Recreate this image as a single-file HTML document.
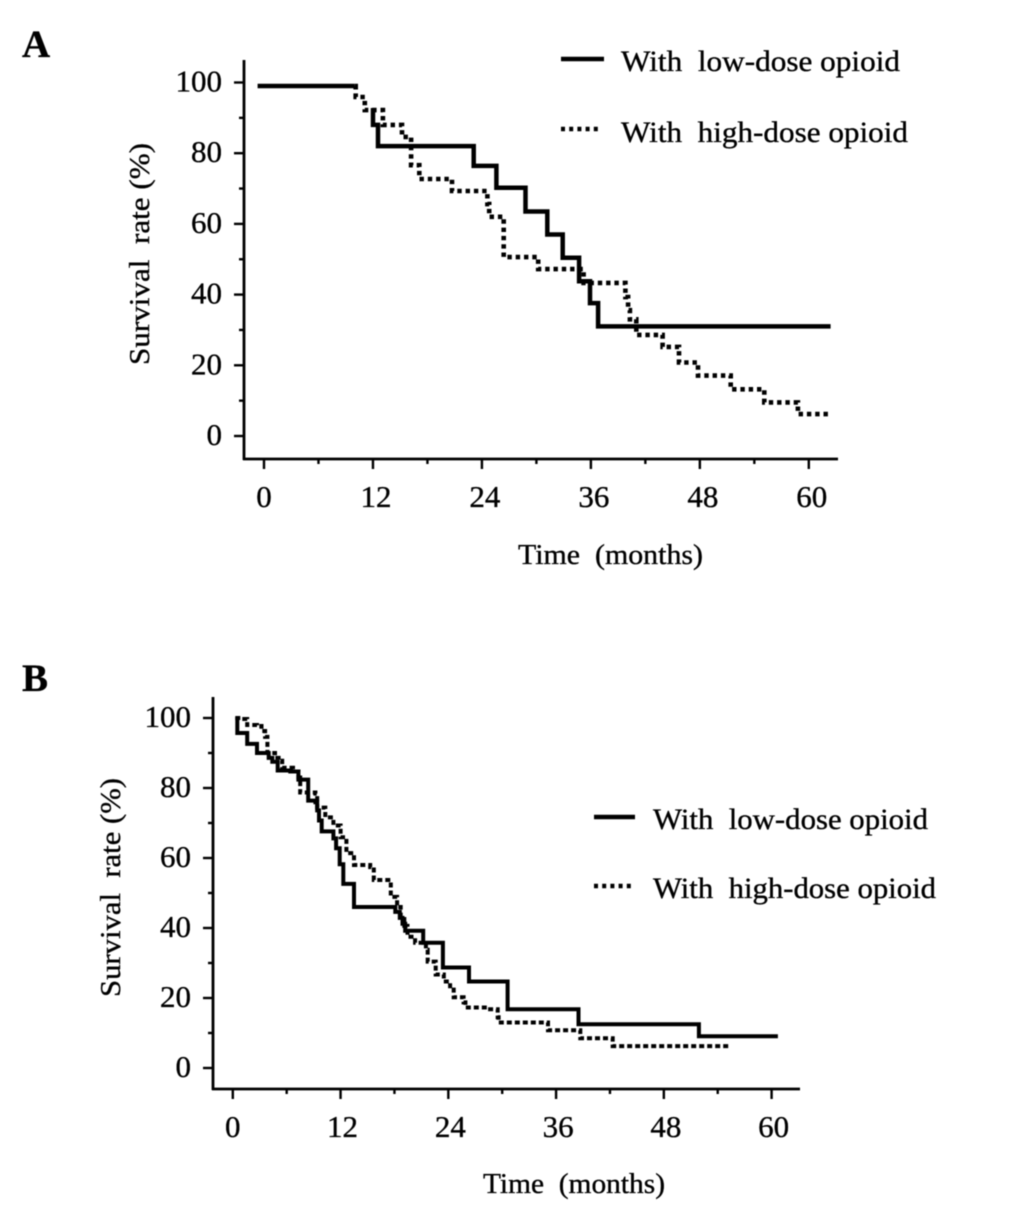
<!DOCTYPE html>
<html lang="en">
<head>
<meta charset="utf-8">
<title>Survival curves</title>
<style>
html,body{margin:0;padding:0;background:#fff;}
svg{display:block;filter:blur(0.5px);}
text{font-family:"Liberation Serif",serif;fill:#000;stroke:#000;stroke-width:0.35px;}
</style>
</head>
<body>
<svg id="figure" width="1034" height="1220" viewBox="0 0 1034 1220" xmlns="http://www.w3.org/2000/svg">
  <rect width="1034" height="1220" fill="#fff"/>
  <text x="22" y="57" font-size="39" font-weight="bold">A</text>
  <text x="22" y="691" font-size="39" font-weight="bold">B</text>

  <g id="panelA"></g>
  <g id="panelB"></g>

  <text transform="translate(149,365) rotate(-90)" font-size="29" textLength="222" lengthAdjust="spacingAndGlyphs" xml:space="preserve">Survival  rate (%)</text>
  <text x="518" y="564" font-size="29" textLength="185" lengthAdjust="spacingAndGlyphs" xml:space="preserve">Time  (months)</text>
  <text transform="translate(120,997) rotate(-90)" font-size="29" textLength="219" lengthAdjust="spacingAndGlyphs" xml:space="preserve">Survival  rate (%)</text>
  <text x="483" y="1193" font-size="29" textLength="182" lengthAdjust="spacingAndGlyphs" xml:space="preserve">Time  (months)</text>

  <g>
    <line x1="561" y1="59" x2="604" y2="59" stroke="#000" stroke-width="4.5"/>
    <text x="621" y="71" font-size="30" textLength="279" lengthAdjust="spacingAndGlyphs" xml:space="preserve">With  low-dose opioid</text>
    <line x1="561" y1="129" x2="600" y2="129" stroke="#000" stroke-width="4.4" stroke-dasharray="4 4.2"/>
    <text x="621" y="142" font-size="30" textLength="287" lengthAdjust="spacingAndGlyphs" xml:space="preserve">With  high-dose opioid</text>
  </g>
  <g>
    <line x1="594" y1="817" x2="635" y2="817" stroke="#000" stroke-width="4.5"/>
    <text x="653" y="829" font-size="30" textLength="275" lengthAdjust="spacingAndGlyphs" xml:space="preserve">With  low-dose opioid</text>
    <line x1="594" y1="886" x2="632" y2="886" stroke="#000" stroke-width="4.4" stroke-dasharray="4 4.2"/>
    <text x="653" y="898" font-size="30" textLength="283" lengthAdjust="spacingAndGlyphs" xml:space="preserve">With  high-dose opioid</text>
  </g>
</svg>

<script>
// Axis tick data (shared by both panels)
const xTickValues = [0, 12, 24, 36, 48, 60];
const xTickLabels = ["0", "12", "24", "36", "48", "60"];
const xMinorTicks = [6, 18, 30, 42, 54];
const yTickValues = [0, 20, 40, 60, 80, 100];
const yTickLabels = ["0", "20", "40", "60", "80", "100"];
const yMinorTicks = [10, 30, 50, 70, 90];

// Panel A series: time in months, survival in percent (null = gap in the printed line)
const lowTimesA = [-0.7, 10.0, null, 12.0, 12.0, 12.55, 23.1, 25.6, 28.8, 31.2, 32.9, 34.7, 35.9, 36.8, 62.4];
const lowRatesA = [99, 99, null, 92.8, 88, 82, 76.4, 70.2, 63.5, 57, 50.4, 43.8, 37.6, 31, 31];
const highTimesA = [10.0, 10.1, 11.1, 13.1, 15.2, 16.2, 17.1, 20.7, 24.6, 24.8, 26.4, 30.2, 35.2, 39.4, 39.8, 40.1, 40.3, 41, 43.9, 45.7, 47.8, 51.4, 55.1, 58.8, 62.4];
const highRatesA = [99, 95.9, 92.2, 88, 84.6, 76.6, 72.7, 69.3, 65.6, 62, 50.6, 47.2, 43.3, 43.3, 39.3, 35.6, 33, 28.6, 25.2, 20.8, 17.1, 13.2, 9.5, 6.2, 6.2];

// Panel B series
const lowTimesB = [0.28, 0.5, 1.6, 2.7, 4, 4.4, 5, 6.4, 7.3, 8.4, 9.2, 9.4, 9.6, 9.9, 11.2, 11.5, 11.9, 12.3, 13.5, 18.1, 18.6, 18.9, 19.2, 21.2, 23.4, 26.3, 30.6, 38.5, 51.9, 60.7];
const lowRatesB = [99.7, 95.7, 92.6, 90, 88.6, 87.5, 85, 84.7, 82.4, 76.4, 75.9, 73.6, 70.7, 67.6, 65.6, 62.8, 58.2, 52.6, 46, 44.6, 42.9, 41.2, 39.2, 35.8, 28.7, 24.7, 16.8, 12.5, 9.1, 9.1];
const highTimesB = [0.28, 0.84, 1.6, 2.7, 3.2, 3.6, 3.85, 4.7, 5.1, 5.5, 6.7, 7.3, 7.5, 9.2, 9.4, 10.3, 11.2, 12, 12.65, 13.5, 15.3, 15.7, 17.6, 18.3, 18.7, 19.1, 19.45, 20.3, 21.5, 21.7, 22.6, 23.5, 24.2, 24.6, 25.7, 25.9, 28.4, 29.5, 29.6, 35.1, 38.7, 42.3, 55.2];
const highRatesB = [100, 99.7, 98, 97.7, 96.3, 94.6, 90, 88.6, 87.8, 85.8, 84.7, 83, 78.7, 78.4, 74.4, 71.6, 69.3, 65.9, 61.4, 58, 57.4, 53.7, 48.9, 46, 43.2, 40.6, 37.5, 35.8, 33.8, 30.4, 26.7, 24.7, 22.4, 20.2, 18.75, 17.3, 16.8, 14.5, 13, 10.8, 8.5, 6.25, 6.25];

const NS = "http://www.w3.org/2000/svg";

function make(tag, attrs, parent) {
  const el = document.createElementNS(NS, tag);
  for (const k in attrs) el.setAttribute(k, attrs[k]);
  parent.appendChild(el);
  return el;
}

function stepPath(times, rates, xAxis, yAxis) {
  let d = "";
  let fresh = true;
  for (let i = 0; i < times.length; i++) {
    if (times[i] === null) { fresh = true; continue; }
    const px = xAxis(times[i]).toFixed(1);
    const py = yAxis(rates[i]).toFixed(1);
    if (fresh) { d += "M" + px + " " + py; fresh = false; }
    else { d += "H" + px + "V" + py; }
  }
  return d;
}

function drawPanel(group, cfg) {
  const xAxis = function (t) { return cfg.x0 + cfg.xs * t; };
  const yAxis = function (v) { return cfg.y0 - cfg.ys * v; };

  const yLine = make("line", {x1: cfg.left, y1: cfg.top, x2: cfg.left, y2: cfg.bottom + 1, stroke: "#000", "stroke-width": 2.8}, group);
  
  
  const xLine = make("line", {x1: cfg.left - 1, y1: cfg.bottom, x2: cfg.right, y2: cfg.bottom, stroke: "#000", "stroke-width": 2.8}, group);
  
  

  xTickValues.forEach(function (v, i) {
    const px = xAxis(v);
    const tick = make("line", {x1: px, y1: cfg.bottom, x2: px, y2: cfg.bottom + 10, stroke: "#000", "stroke-width": 2.4}, group);
    
    
    const label = make("text", {x: px + (i === 0 ? 0 : cfg.labelShift), y: cfg.bottom + 48, "font-size": 31, "text-anchor": "middle"}, group);
    label.textContent = xTickLabels[i];
    
    
  });
  xMinorTicks.forEach(function (v) {
    const px = xAxis(v);
    const tick = make("line", {x1: px, y1: cfg.bottom, x2: px, y2: cfg.bottom + 5, stroke: "#000", "stroke-width": 2.4}, group);
    
    
  });
  yTickValues.forEach(function (v, i) {
    const py = yAxis(v);
    const tick = make("line", {x1: cfg.left, y1: py, x2: cfg.left - 10, y2: py, stroke: "#000", "stroke-width": 2.4}, group);
    
    
    const label = make("text", {x: cfg.left - 22, y: py + 9, "font-size": 31, "text-anchor": "end"}, group);
    label.textContent = yTickLabels[i];
    
    
  });
  yMinorTicks.forEach(function (v) {
    const py = yAxis(v);
    const tick = make("line", {x1: cfg.left, y1: py, x2: cfg.left - 5, y2: py, stroke: "#000", "stroke-width": 2.4}, group);
    
    
  });

  const high = make("path", {d: stepPath(cfg.highTimes, cfg.highRates, xAxis, yAxis), fill: "none", stroke: "#000", "stroke-width": cfg.highWidth, "stroke-dasharray": cfg.dash}, group);
  
  
  const low = make("path", {d: stepPath(cfg.lowTimes, cfg.lowRates, xAxis, yAxis), fill: "none", stroke: "#000", "stroke-width": cfg.lowWidth}, group);
  
  
}

drawPanel(document.getElementById("panelA"), {
  x0: 264, xs: 9.08, y0: 436, ys: 3.535,
  left: 244, right: 838, top: 60, bottom: 459, labelShift: 3,
  lowTimes: lowTimesA, lowRates: lowRatesA, highTimes: highTimesA, highRates: highRatesA,
  lowWidth: 4.5, highWidth: 4.6, dash: "4.4 3.9"
});
drawPanel(document.getElementById("panelB"), {
  x0: 232.8, xs: 8.98, y0: 1068, ys: 3.5,
  left: 213, right: 800, top: 697, bottom: 1089, labelShift: 2,
  lowTimes: lowTimesB, lowRates: lowRatesB, highTimes: highTimesB, highRates: highRatesB,
  lowWidth: 4, highWidth: 4, dash: "5 3"
});
</script>
</body>
</html>
